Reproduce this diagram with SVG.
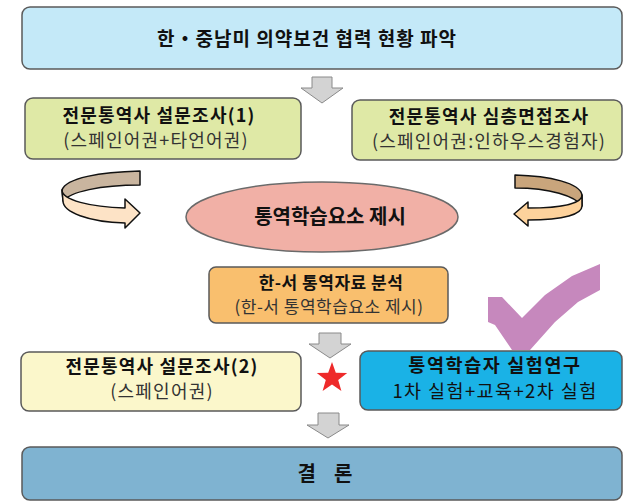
<svg xmlns="http://www.w3.org/2000/svg" width="623" height="503" viewBox="0 0 623 503">
<style>
text{font-family:"Noto Sans CJK KR","Noto Sans",sans-serif;text-anchor:middle;fill:#111}
.b{font-weight:bold}
.n{fill:#333}
.m{font-size:18px;letter-spacing:1.2px}
.box{stroke:#5a5a5a;stroke-width:1.5}
.arr{fill:#d3d3d3;stroke:#8a8a8a;stroke-width:1}
.curve{stroke:#111;stroke-width:1.5;stroke-linejoin:round}
</style>
<rect width="623" height="503" fill="#fff"/>
<g id="connectors">
<polygon class="arr" points="312,77 332,77 332,88 343,88 322,103 301,88 312,88"/>
<polygon class="arr" points="319,333 341,333 341,344 351,344 330,358 309,344 319,344"/>
<polygon class="arr" points="318,413 339,413 339,425 349,425 328,438 307,425 318,425"/>
<g id="curve-left">
<path class="curve" fill="#c9b59f" d="M140,171 C100,172 66,178 62,190 L63,201 C70,192 100,185 140,185 Z"/>
<path class="curve" fill="#fde3c6" d="M62,190 C62,200 90,207 125,208 L125,199 L140,213 L125,228 L125,223 C88,222 63,212 63,201 Z"/>
</g>
<g id="curve-right">
<path class="curve" fill="#c9a57c" d="M515,175 C550,176 580,183 582,195 L582,206 C575,196 550,188 515,188 Z"/>
<path class="curve" fill="#fdd29c" d="M582,195 C582,204 560,208 528,208 L528,202 L514,214 L528,226 L528,220 C565,220 582,214 582,206 Z"/>
</g>
</g>
<g id="n-top">
<rect class="box" x="22" y="7" width="600" height="62" rx="8" fill="#c4e9f8"/>
<text class="b" x="307" y="46" font-size="19" letter-spacing="1">한・중남미 의약보건 협력 현황 파악</text>
</g>
<g id="n-survey1">
<rect class="box" x="25" y="98" width="276" height="61" rx="8" fill="#dfe9a6"/>
<text class="b m" x="159" y="122">전문통역사 설문조사(1)</text>
<text class="n m" x="156" y="147">(스페인어권+타언어권)</text>
</g>
<g id="n-interview">
<rect class="box" x="352" y="100" width="270" height="60" rx="8" fill="#dfe9a6" stroke="#5a6044"/>
<text class="b m" x="489" y="123">전문통역사 심층면접조사</text>
<text class="n m" x="489" y="148">(스페인어권:인하우스경험자)</text>
</g>
<g id="n-elements">
<ellipse cx="322" cy="217" rx="136" ry="35" fill="#f1b0a6" stroke="#6a6a6a" stroke-width="1.5"/>
<text class="b" x="330" y="224" font-size="20">통역학습요소 제시</text>
</g>
<g id="n-analysis">
<rect class="box" x="209" y="267" width="239" height="56" rx="7" fill="#f9bf6e"/>
<text class="b" x="331" y="289" font-size="17" letter-spacing="0.5">한-서 통역자료 분석</text>
<text class="n" x="329" y="313" font-size="17" letter-spacing="0.5">(한-서 통역학습요소 제시)</text>
</g>
<g id="n-survey2">
<rect class="box" x="21" y="352" width="280" height="59" rx="8" fill="#fbf7cb"/>
<text class="b m" x="162" y="373">전문통역사 설문조사(2)</text>
<text class="n m" x="162" y="398">(스페인어권)</text>
</g>
<g id="n-experiment">
<rect class="box" x="360" y="351" width="262" height="59" rx="8" fill="#1ab2e6"/>
<text class="b" x="495" y="372" font-size="18.5" letter-spacing="1.6">통역학습자 실험연구</text>
<text x="495" y="398" font-size="18.5" letter-spacing="1.4">1차 실험+교육+2차 실험</text>
</g>
<g id="n-conclusion">
<rect class="box" x="22" y="447" width="600" height="53" rx="8" fill="#7fb3d1"/>
<text class="b" x="325" y="481" font-size="20" xml:space="preserve">결    론</text>
</g>
<polygon id="star" fill="#ee2a2a" points="332,362 335.8,372.7 347.2,373.1 338.2,380 341.4,390.9 332,384.5 322.6,390.9 325.8,380 316.8,373.1 328.2,372.7"/>
<polygon id="check" fill="#c688bd" points="488,297 502,297 522,318 545,295 572,276 600,264 600,290 578,302 555,322 530,350 512,350 495,325 488,322"/>
</svg>
